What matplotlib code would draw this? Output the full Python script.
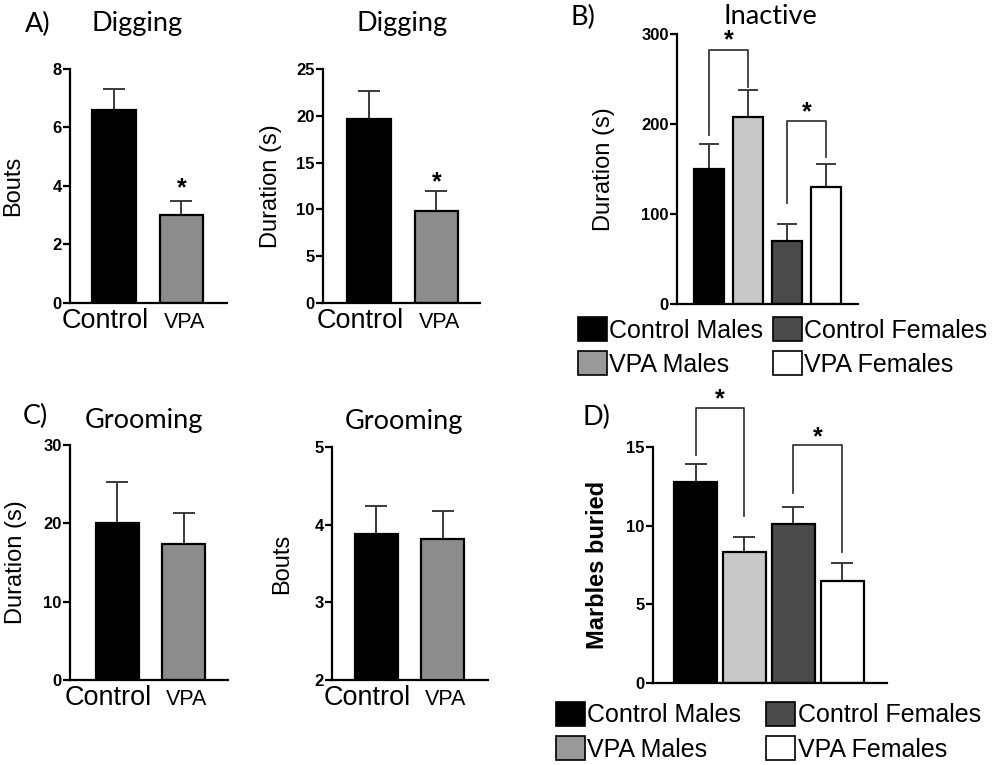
import matplotlib
matplotlib.use("Agg")
import matplotlib.pyplot as plt
import matplotlib.transforms as mtransforms
from matplotlib.patches import Patch

plt.rcParams['font.family'] = ['Liberation Sans', 'DejaVu Sans']

# ----------------------------
# DATA
# ----------------------------
two_groups = ["Control", "VPA"]
four_groups = ["Control Males", "VPA Males", "Control Females", "VPA Females"]

digging_bouts = [6.6, 3.0]
digging_bouts_err = [0.7, 0.5]
digging_duration = [19.7, 9.8]
digging_duration_err = [2.9, 2.2]

inactive_duration = [150, 208, 70, 130]
inactive_duration_err = [28, 30, 19, 26]

grooming_duration = [20.1, 17.3]
grooming_duration_err = [5.2, 4.0]
grooming_bouts = [3.88, 3.82]
grooming_bouts_err = [0.36, 0.36]

marbles_buried = [12.8, 8.3, 10.1, 6.5]
marbles_buried_err = [1.1, 1.0, 1.1, 1.1]

# significance brackets: (left bar, right bar, left foot, top, right foot)
inactive_brackets = [(0, 1, 188, 282, 241), (2, 3, 112, 203, 163)]
marbles_brackets = [(0, 1, 14.5, 17.5, 10.6), (2, 3, 12.1, 15.1, 8.3)]

two_colors = ["#000000", "#8c8c8c"]
four_colors = ["#000000", "#c8c8c8", "#4a4a4a", "#ffffff"]
legend_colors = ["#000000", "#999999", "#4a4a4a", "#ffffff"]

W, H = 1001, 765
ERR_COLOR = "#3a3a3a"


def px_axes(fig, left, top, right, bottom):
    return fig.add_axes([left / W, 1 - bottom / H, (right - left) / W, (bottom - top) / H])


def style_axes(ax, ylim, yticks):
    ax.set_ylim(*ylim)
    ax.set_yticks(yticks, [str(t) for t in yticks], fontsize=12, fontweight="bold")
    for s in ("top", "right"):
        ax.spines[s].set_visible(False)
    for s in ("left", "bottom"):
        ax.spines[s].set_linewidth(1.6)
    ax.tick_params(axis="y", length=5, width=1.6, pad=1)


def draw_bars(ax, values, errs, colors, width, capsize):
    x = list(range(len(values)))
    ax.bar(x, values, width=width, color=colors, edgecolor="black", linewidth=1.6, zorder=2)
    ax.errorbar(x, values, yerr=[[0] * len(errs), errs], fmt="none", ecolor=ERR_COLOR,
                elinewidth=1.4, capsize=capsize, capthick=1.4, zorder=1)
    return x


def two_bar_panel(ax, fig, values, errs, ylim, yticks, ylabel, label_x, xlim, star=None):
    x = draw_bars(ax, values, errs, two_colors, 0.65, 8)
    style_axes(ax, ylim, yticks)
    ax.set_xlim(*xlim)
    ax.set_xticks([])
    base = mtransforms.blended_transform_factory(ax.transData, ax.transAxes)
    # group names sit on a common baseline below the axis, "Control" nudged left
    for xi, name, size, dx in zip(x, two_groups, [19.5, 15.5], [-9, 3]):
        tr = base + mtransforms.ScaledTranslation(dx / 100, -25 / 100, fig.dpi_scale_trans)
        ax.text(xi, 0, name, transform=tr, ha="center", va="baseline", fontsize=size)
    ax.set_ylabel(ylabel, fontsize=17)
    ax.yaxis.set_label_coords(label_x, 0.5)
    if star is not None:
        ax.text(1, star, "*", ha="center", va="center", fontsize=18, fontweight="bold")


def four_bar_panel(ax, values, errs, ylim, yticks, ylabel, label_x, xlim, brackets, width,
                   capsize, bold_label=False):
    x = draw_bars(ax, values, errs, four_colors, width, capsize)
    style_axes(ax, ylim, yticks)
    ax.set_xlim(*xlim)
    ax.set_xticks([])
    ax.set_ylabel(ylabel, fontsize=17, fontweight="bold" if bold_label else "normal")
    ax.yaxis.set_label_coords(label_x, 0.5)
    span = ylim[1] - ylim[0]
    for a, b, y_left, y_top, y_right in brackets:
        ax.plot([x[a], x[a], x[b], x[b]], [y_left, y_top, y_top, y_right],
                color=ERR_COLOR, lw=1.3, clip_on=False)
        ax.text((x[a] + x[b]) / 2, y_top + span * 0.035, "*", ha="center", va="center",
                fontsize=18, fontweight="bold", clip_on=False)


def four_legend(fig, left_px, top_px, colspace):
    handles = [Patch(facecolor=c, edgecolor="black", linewidth=1.2) for c in legend_colors]
    fig.legend(handles, four_groups, loc="upper left",
               bbox_to_anchor=(left_px / W, 1 - top_px / H), ncol=2, frameon=False,
               fontsize=18, handlelength=1.15, handleheight=1.1, handletextpad=0.1,
               columnspacing=colspace, labelspacing=0.35, borderaxespad=0, borderpad=0)


fig = plt.figure(figsize=(W / 100, H / 100), dpi=100)

# A) Digging bouts
ax1 = px_axes(fig, 70, 69, 227, 303)
two_bar_panel(ax1, fig, digging_bouts, digging_bouts_err, (0, 8), [0, 2, 4, 6, 8], "Bouts",
              -0.29, (-0.66, 1.68), star=3.93)

# A) Digging duration
ax2 = px_axes(fig, 323, 69, 480, 303)
two_bar_panel(ax2, fig, digging_duration, digging_duration_err, (0, 25),
              [0, 5, 10, 15, 20, 25], "Duration (s)", -0.26, (-0.69, 1.65), star=12.9)

# B) Inactive
ax3 = px_axes(fig, 677, 34, 858, 304)
four_bar_panel(ax3, inactive_duration, inactive_duration_err, (0, 300), [0, 100, 200, 300],
               "Duration (s)", -0.34, (-0.82, 3.81), inactive_brackets, 0.77, 7)
four_legend(fig, 578, 317, 0.4)

# C) Grooming duration
ax4 = px_axes(fig, 70, 445, 228, 680)
two_bar_panel(ax4, fig, grooming_duration, grooming_duration_err, (0, 30), [0, 10, 20, 30],
              "Duration (s)", -0.27, (-0.71, 1.67))

# C) Grooming bouts
ax5 = px_axes(fig, 332, 447, 488, 680)
two_bar_panel(ax5, fig, grooming_bouts, grooming_bouts_err, (2, 5), [2, 3, 4, 5], "Bouts",
              -0.25, (-0.67, 1.68))

# D) Marbles buried
ax6 = px_axes(fig, 653, 447, 887, 683)
four_bar_panel(ax6, marbles_buried, marbles_buried_err, (0, 15), [0, 5, 10, 15],
               "Marbles buried", -0.19, (-0.87, 3.92), marbles_brackets, 0.88, 8,
               bold_label=True)
four_legend(fig, 556, 702, 1.0)

# panel letters and titles
title_font = ["Lato", "DejaVu Sans"]
for txt, xp, yp in [("A)", 38, 24), ("Digging", 137, 24), ("Digging", 402, 23),
                    ("B)", 583, 17), ("Inactive", 770, 17),
                    ("C)", 35, 416), ("Grooming", 144, 420), ("Grooming", 404, 421),
                    ("D)", 596, 417)]:
    fig.text(xp / W, 1 - yp / H, txt, ha="center", va="center", fontsize=19.5,
             family=title_font)

fig.savefig("out.png", dpi=100)
